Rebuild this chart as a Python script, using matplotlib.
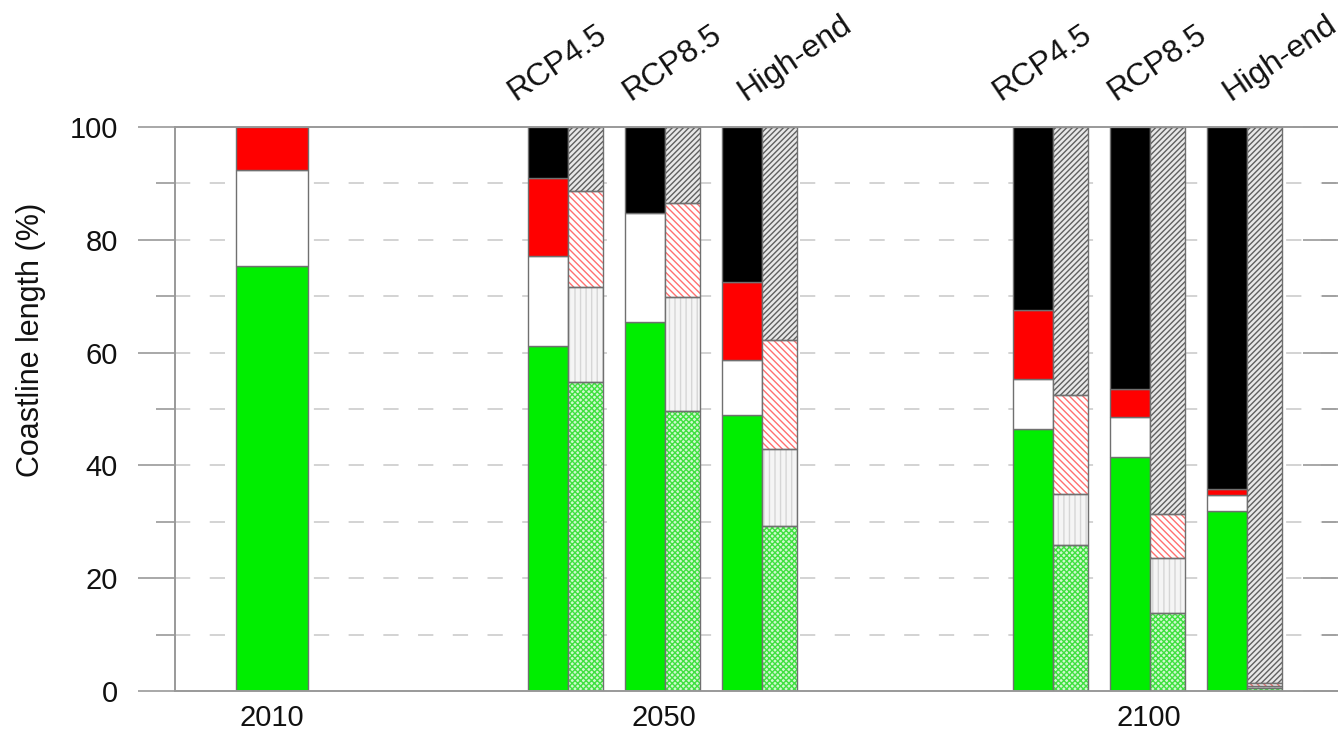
import matplotlib
matplotlib.use("Agg")
import matplotlib.pyplot as plt
import matplotlib.transforms as mtransforms
import numpy as np

plt.rcParams['font.family'] = ['Liberation Sans', 'DejaVu Sans']
plt.rcParams['hatch.linewidth'] = 1.0
plt.rcParams['lines.scale_dashes'] = False

# ---------------- data (percent of coastline length) ----------------
periods = ['2010', '2050', '2100']
scenarios = ['RCP4.5', 'RCP8.5', 'High-end']

# 2010 baseline (bottom -> top): green, white, red, black
base_green = 75.4
base_white = 17.0
base_red = 7.6
base_black = 0.0

# Future: order 2050 RCP4.5, RCP8.5, High-end, 2100 RCP4.5, RCP8.5, High-end
solid_green = [61.2, 65.4, 48.9, 46.4, 41.5, 32.0]
solid_white = [15.9, 19.4, 9.8, 8.9, 7.0, 2.8]
solid_red = [13.9, 0.0, 13.9, 12.2, 5.0, 1.0]
solid_black = [9.0, 15.2, 27.4, 32.5, 46.5, 64.2]

hatch_green = [54.7, 49.6, 29.3, 25.9, 13.8, 0.6]
hatch_white = [17.0, 20.3, 13.6, 9.0, 9.7, 0.2]
hatch_red = [17.0, 16.7, 19.3, 17.6, 7.8, 0.6]
hatch_black = [11.3, 13.4, 37.8, 47.5, 68.7, 98.6]

yticks = [0, 20, 40, 60, 80, 100]

# ---------------- figure ----------------
W, H = 1338, 733
fig = plt.figure(figsize=(W / 100, H / 100), dpi=100)
ax = fig.add_axes([175 / W, 42 / H, 1165 / W, 564 / H])
ax.set_xlim(0, 12.01)
ax.set_ylim(0, 100)

edge = '#707070'

# gridlines (behind bars)
for yv in range(10, 100, 10):
    ax.axhline(yv, color='#d0d0d0', lw=1.3, ls=(0, (11, 14)), zorder=0)

# 2010 bar
x2010 = 1.0
w2010 = 0.75
bottom = 0.0
for val, col in zip([base_green, base_white, base_red, base_black],
                    ['#00ee00', 'white', '#ff0000', 'black']):
    if val > 0:
        ax.bar(x2010, val, width=w2010, bottom=bottom, color=col,
               edgecolor=edge, lw=1.0, zorder=2)
    bottom += val

# future bar pairs
group_start = [4.04, 9.04]
centers = [g + i for g in group_start for i in range(3)]
w_solid = 0.41
w_hatch = 0.36

solid_cols = ['#00ee00', 'white', '#ff0000', 'black']
hatch_styles = [
    ('#d0f8d0', '#40e040', 'xxxxxx'),
    ('#f5f5f5', '#d6d6d6', '|||'),
    ('white', '#ff7070', '\\\\\\\\\\'),
    ('#e8e8e8', '#606060', '//////'),
]

for k, c in enumerate(centers):
    b = 0.0
    for val, col in zip([solid_green[k], solid_white[k], solid_red[k], solid_black[k]], solid_cols):
        if val > 0:
            ax.bar(c - 0.40, val, width=w_solid, bottom=b, align='edge',
                   color=col, edgecolor=edge, lw=1.0, zorder=2)
        b += val
    b = 0.0
    for val, (fc, hc, hp) in zip([hatch_green[k], hatch_white[k], hatch_red[k], hatch_black[k]], hatch_styles):
        if val > 0:
            ax.bar(c + 0.01, val, width=w_hatch, bottom=b, align='edge',
                   facecolor=fc, edgecolor=hc, hatch=hp, lw=0, zorder=2)
            ax.bar(c + 0.01, val, width=w_hatch, bottom=b, align='edge',
                   fill=False, edgecolor=edge, lw=1.0, zorder=3)
        b += val

# scenario labels
trans = mtransforms.blended_transform_factory(ax.transData, ax.transAxes)
for g in group_start:
    for i, s in enumerate(scenarios):
        ax.text(g - 0.53 + i * 1.186, 1.046, s, transform=trans, rotation=34,
                rotation_mode='anchor', ha='left', va='baseline',
                fontsize=23, color='#111111', clip_on=False)

# axes styling
for sp in ax.spines.values():
    sp.set_color('#999999')
    sp.set_linewidth(1.2)

ax.set_yticks(yticks)
ax.set_yticks(range(10, 100, 20), minor=True)
ax.tick_params(axis='y', which='major', direction='out', length=27, width=1.2,
               color='#999999', labelsize=21, pad=14, labelcolor='#111111')
ax.tick_params(axis='y', which='minor', direction='out', length=14, width=1.2,
               color='#999999')

ax.set_xticks([x2010, centers[1], centers[4]])
ax.set_xticklabels(periods)
ax.tick_params(axis='x', length=0, labelsize=21, pad=9, labelcolor='#111111')

# right-hand inward ticks
ax2 = ax.twinx()
ax2.set_ylim(0, 100)
ax2.set_yticks(yticks)
ax2.set_yticks(range(10, 100, 20), minor=True)
ax2.tick_params(axis='y', which='major', direction='in', length=27, width=1.2,
                color='#999999', labelright=False)
ax2.tick_params(axis='y', which='minor', direction='in', length=13, width=1.2,
                color='#999999')
for sp in ax2.spines.values():
    sp.set_color('#999999')
    sp.set_linewidth(1.2)

fig.text(31 / W, 1 - 340 / H, 'Coastline length (%)', rotation=90,
         ha='center', va='center', fontsize=22, color='#111111')

fig.savefig('out.png', dpi=100)
